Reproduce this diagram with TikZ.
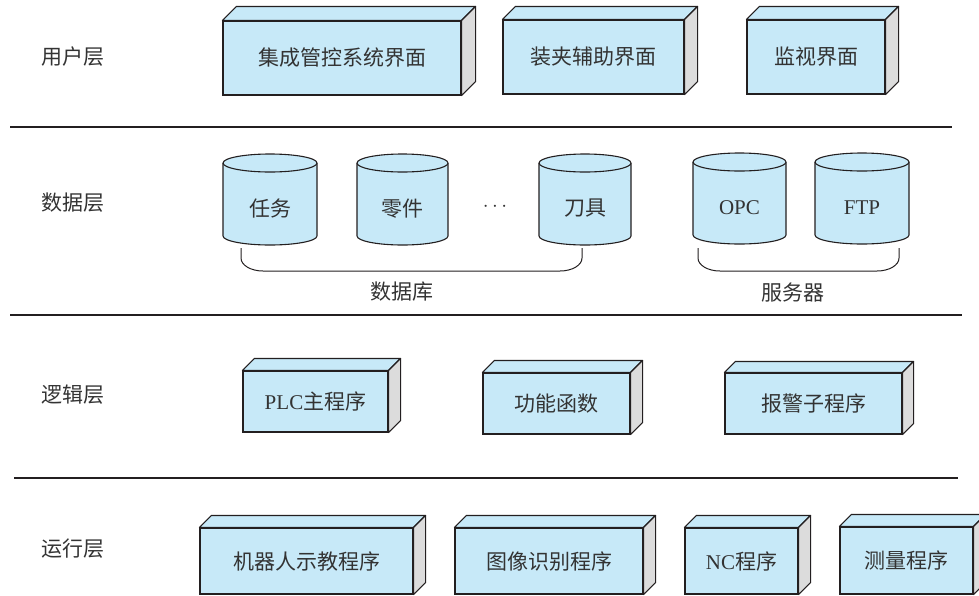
\documentclass[tikz,border=0pt]{standalone}
\usepackage{fontspec}
\setmainfont{Liberation Serif}
\newfontfamily\cjk{Noto Sans CJK SC}
\definecolor{boxblue}{HTML}{C7E9F8}
\definecolor{sidegray}{HTML}{DCDCDC}
\definecolor{edge}{HTML}{231F20}
\definecolor{txt}{HTML}{333333}
\tikzset{
  frontbox/.style={draw=edge, fill=boxblue, line width=1.1pt, inner sep=0pt,
    text=txt, font=\fontsize{21}{25}\selectfont\cjk},
  topface/.style={draw=edge, fill=boxblue, line width=1.1pt, line join=round},
  sideface/.style={draw=edge, fill=sidegray, line width=1.1pt, line join=round},
  cyl/.style={draw=edge, fill=boxblue, line width=1.1pt},
  lbl/.style={inner sep=0pt, text=txt, font=\fontsize{21}{25}\selectfont\cjk},
  brace/.style={draw=edge, line width=1pt},
  layerline/.style={draw=edge, line width=1.4pt},
}
\newcommand\cubebox[7]{%
  \node[frontbox, minimum width=#4pt, minimum height=#5pt] (#1) at (#2,#3) {#7};
  \draw[topface] (#1.north west) -- ++(#6,-#6) -- ([shift={(#6,-#6)}]#1.north east) -- (#1.north east) -- cycle;
  \draw[sideface] (#1.north east) -- ++(#6,-#6) -- ([shift={(#6,-#6)}]#1.south east) -- (#1.south east) -- cycle;
}
\newcommand\dbcyl[6]{%
  \pgfmathsetmacro\myrx{(#3-#2)/2}
  \filldraw[cyl] (#2,#4) -- (#2,#5) arc[start angle=180,end angle=360,x radius=\myrx pt,y radius=9pt]
     -- (#3,#4) arc[start angle=0,end angle=180,x radius=\myrx pt,y radius=9pt] -- cycle;
  \draw[cyl] (#2,#4) arc[start angle=180,end angle=360,x radius=\myrx pt,y radius=9pt];
  \node[lbl] (#1) at ({(#2+#3)/2},{(#4+#5)/2+9}) {#6};
}
\begin{document}
\begin{tikzpicture}[x=1pt,y=-1pt]
\useasboundingbox (0,0) rectangle (979,595);

% layer labels
\node[lbl] (l1) at (73,57) {用户层};
\node[lbl] (l2) at (73,203) {数据层};
\node[lbl] (l3) at (73,395) {逻辑层};
\node[lbl] (l4) at (73,549) {运行层};

% separators
\coordinate (s1a) at (10,127); \coordinate (s1b) at (952,127);
\coordinate (s2a) at (10,315); \coordinate (s2b) at (962,315);
\coordinate (s3a) at (14,478); \coordinate (s3b) at (958,478);
\draw[layerline] (s1a) -- (s1b);
\draw[layerline] (s2a) -- (s2b);
\draw[layerline] (s3a) -- (s3b);

% user layer
\cubebox{u1}{342}{58}{238}{74}{14}{集成管控系统界面}
\cubebox{u2}{593.5}{57}{181}{74}{13}{装夹辅助界面}
\cubebox{u3}{816}{57}{138}{74}{13}{监视界面}

% data layer
\dbcyl{d1}{223}{317}{163}{236}{任务}
\dbcyl{d2}{357}{448}{163}{236}{零件}
\dbcyl{d3}{539}{631}{163}{236}{刀具}
\node[lbl, font=\fontsize{22}{26}\selectfont] (dots) at (495,207) {$\cdots$};
\dbcyl{d4}{693}{786}{162}{235}{{\rmfamily OPC}}
\dbcyl{d5}{815}{909}{162}{235}{{\rmfamily FTP}}

\coordinate (b1a) at (241,248); \coordinate (b1b) at (582,248);
\draw[brace] (b1a) -- (241,258) arc[start angle=180,end angle=270,x radius=22pt,y radius=13pt]
  -- (560,271) arc[start angle=270,end angle=360,x radius=22pt,y radius=13pt] -- (b1b);
\coordinate (b2a) at (698,248); \coordinate (b2b) at (899,248);
\draw[brace] (b2a) -- (698,258) arc[start angle=180,end angle=270,x radius=22pt,y radius=13pt]
  -- (877,271) arc[start angle=270,end angle=360,x radius=22pt,y radius=13pt] -- (b2b);
\node[lbl] (db) at (402,292) {数据库};
\node[lbl] (srv) at (793,293) {服务器};

% logic layer
\cubebox{g1}{315.5}{401.5}{145}{61}{12}{{\rmfamily PLC}主程序}
\cubebox{g2}{556.5}{403.5}{147}{61}{12}{功能函数}
\cubebox{g3}{813.5}{403.5}{177}{61}{11}{报警子程序}

% run layer
\cubebox{r1}{306.5}{561}{213}{66}{12}{机器人示教程序}
\cubebox{r2}{549}{561}{188}{66}{12}{图像识别程序}
\cubebox{r3}{741.5}{561}{113}{66}{12}{{\rmfamily NC}程序}
\cubebox{r4}{906.5}{560.5}{133}{67}{12}{测量程序}
\end{tikzpicture}
\end{document}
